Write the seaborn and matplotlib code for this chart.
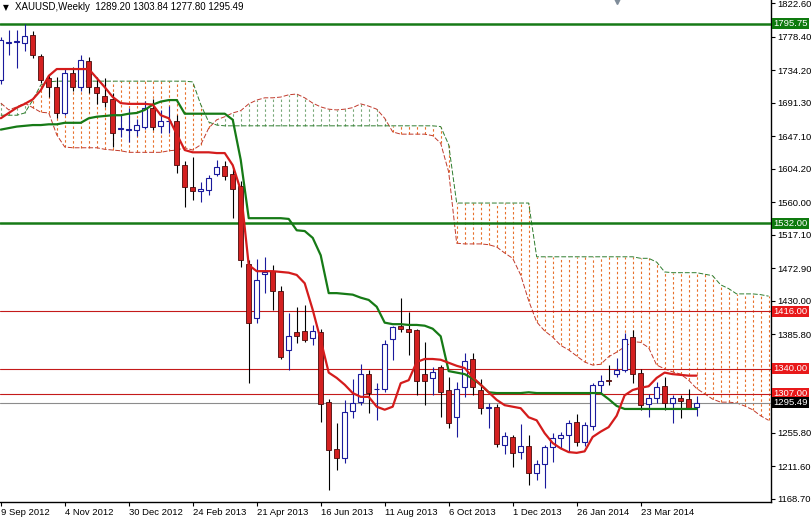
import numpy as np
import pandas as pd
import matplotlib
matplotlib.use("Agg")
import matplotlib.pyplot as plt
import seaborn as sns

# weekly XAUUSD candles, week 0 = 9 Sep 2012
opens = [1722, 1771, 1772, 1771, 1781, 1753, 1724, 1712, 1678, 1731,
         1712, 1746, 1712, 1701, 1697, 1657, 1656, 1656, 1660, 1684,
         1661, 1667, 1668, 1609, 1580, 1575, 1576, 1597, 1608, 1597,
         1581, 1479, 1407, 1465, 1469, 1443, 1365, 1388, 1390, 1381,
         1388, 1296, 1234, 1222, 1284, 1296, 1333, 1313, 1314, 1379,
         1396, 1392, 1391, 1333, 1328, 1342, 1312, 1277, 1316, 1353,
         1312, 1288, 1289, 1240, 1250, 1230, 1238, 1202, 1214, 1237,
         1248, 1253, 1270, 1243, 1265, 1318, 1325, 1333, 1338, 1382,
         1334, 1294, 1302, 1317, 1295, 1302, 1300, 1289.20]
highs = [1778, 1787, 1788, 1795, 1786, 1756, 1730, 1725, 1737, 1739,
         1754, 1752, 1725, 1724, 1704, 1675, 1684, 1670, 1694, 1696,
         1682, 1687, 1675, 1615, 1620, 1587, 1596, 1616, 1615, 1606,
         1588, 1484, 1485, 1488, 1477, 1450, 1414, 1422, 1424, 1398,
         1393, 1300, 1268, 1299, 1327, 1346, 1338, 1321, 1378, 1397,
         1434, 1415, 1393, 1375, 1343, 1345, 1329, 1322, 1361, 1361,
         1327, 1295, 1294, 1256, 1253, 1267, 1253, 1219, 1240, 1255,
         1256, 1272, 1280, 1270, 1321, 1332, 1345, 1354, 1387, 1391,
         1340, 1307, 1323, 1329, 1305, 1305, 1314, 1303.84]
lows = [1716, 1754, 1738, 1760, 1750, 1718, 1699, 1671, 1675, 1707,
        1707, 1704, 1690, 1686, 1633, 1646, 1640, 1647, 1657, 1655,
        1652, 1651, 1599, 1554, 1563, 1560, 1570, 1595, 1590, 1539,
        1475, 1321, 1400, 1440, 1418, 1353, 1338, 1374, 1376, 1372,
        1270, 1180, 1206, 1216, 1275, 1292, 1282, 1272, 1310, 1352,
        1389, 1358, 1305, 1292, 1306, 1277, 1262, 1250, 1303, 1306,
        1280, 1262, 1237, 1227, 1210, 1221, 1186, 1193, 1182, 1217,
        1234, 1230, 1238, 1238, 1259, 1308, 1319, 1329, 1336, 1321,
        1286, 1276, 1295, 1286, 1268, 1275, 1287, 1277.80]
closes = [1774, 1772, 1773, 1779, 1754, 1721, 1712, 1678, 1731, 1712,
          1748, 1712, 1704, 1692, 1652, 1658, 1657, 1662, 1684, 1659,
          1667, 1668, 1609, 1580, 1575, 1577, 1592, 1606, 1595, 1578,
          1484, 1400, 1457, 1468, 1443, 1356, 1383, 1383, 1378, 1390,
          1294, 1233, 1222, 1283, 1295, 1333, 1308, 1314, 1373, 1395,
          1393, 1388, 1324, 1324, 1336, 1309, 1268, 1314, 1350, 1316,
          1288, 1289, 1241, 1251, 1229, 1238, 1202, 1214, 1237, 1248,
          1253, 1268, 1243, 1266, 1318, 1324, 1324, 1338, 1380, 1333,
          1292, 1302, 1316, 1295, 1302, 1298, 1288, 1295.49]

# Ichimoku lines
tenkan = [1671, 1678, 1685, 1690, 1696, 1708, 1727, 1736, 1736, 1736,
          1736, 1736, 1724, 1712, 1699, 1691, 1690, 1690, 1690, 1689,
          1675, 1671, 1650, 1629, 1626, 1626, 1626, 1625, 1625, 1609,
          1576, 1477, 1469, 1469, 1469, 1468, 1467, 1464, 1453, 1418,
          1378, 1335, 1328, 1319, 1308, 1303, 1303, 1290, 1286, 1290,
          1321, 1325, 1349, 1353, 1353, 1352, 1348, 1344, 1341, 1329,
          1319, 1309, 1299, 1292, 1290, 1288, 1276, 1272, 1255, 1242,
          1235, 1230, 1229, 1231, 1250, 1257, 1263, 1278, 1305, 1312,
          1315, 1317, 1328, 1335, 1333, 1332, 1331, 1331]
kijun = [1656, 1658, 1660, 1661, 1662, 1662, 1663, 1663, 1665, 1665,
         1665, 1671, 1673, 1674, 1675, 1675, 1677, 1678, 1682, 1689,
         1693, 1695, 1695, 1677, 1677, 1677, 1677, 1677, 1677, 1669,
         1616, 1539, 1539, 1539, 1539, 1539, 1538, 1523, 1522, 1513,
         1490, 1440, 1440, 1439, 1438, 1434, 1431, 1422, 1401, 1399,
         1399, 1398, 1398, 1397, 1393, 1383, 1337, 1335, 1333, 1327,
         1319, 1309, 1308, 1308, 1308, 1308, 1309, 1308, 1308, 1308,
         1308, 1308, 1308, 1308, 1308, 1308, 1300, 1291, 1287, 1287,
         1287, 1287, 1287, 1287, 1287, 1287, 1287, 1287]
span_a = [1691, 1682, 1686, 1691, 1685, 1679, 1678, 1649, 1633, 1632,
          1632, 1632, 1632, 1630, 1629, 1628, 1626, 1626, 1626, 1626,
          1626, 1628, 1629, 1632, 1629, 1636, 1658, 1669, 1673, 1678,
          1681, 1690, 1695, 1698, 1698, 1699, 1702, 1703, 1698, 1691,
          1686, 1683, 1682, 1683, 1685, 1690, 1687, 1683, 1671, 1653,
          1650, 1650, 1650, 1650, 1648, 1638, 1600, 1506, 1505, 1505,
          1505, 1504, 1501, 1493, 1486, 1464, 1430, 1402, 1390, 1382,
          1371, 1365, 1357, 1349, 1345, 1346, 1356, 1362, 1369, 1376,
          1375, 1368, 1345, 1340, 1336, 1333, 1325, 1314, 1307, 1300,
          1296, 1296, 1295, 1291, 1286, 1278, 1272]
span_b = [1675, 1675, 1675, 1678, 1695, 1715, 1719, 1720, 1720, 1720,
          1720, 1720, 1720, 1720, 1720, 1720, 1720, 1720, 1720, 1720,
          1720, 1720, 1720, 1720, 1719, 1689, 1666, 1662, 1661, 1661,
          1661, 1661, 1661, 1661, 1661, 1661, 1661, 1661, 1661, 1661,
          1661, 1661, 1661, 1661, 1661, 1661, 1661, 1661, 1661, 1661,
          1661, 1661, 1661, 1661, 1661, 1660, 1636, 1559, 1559, 1559,
          1559, 1559, 1559, 1559, 1559, 1559, 1559, 1488, 1488, 1488,
          1488, 1488, 1488, 1488, 1488, 1488, 1488, 1488, 1488, 1488,
          1486, 1486, 1481, 1468, 1467, 1467, 1467, 1467, 1465, 1463,
          1451, 1446, 1439, 1439, 1439, 1438, 1436]

date_labels = ["9 Sep 2012", "4 Nov 2012", "30 Dec 2012", "24 Feb 2013",
               "21 Apr 2013", "16 Jun 2013", "11 Aug 2013", "6 Oct 2013",
               "1 Dec 2013", "26 Jan 2014", "23 Mar 2014"]
date_weeks = [0, 8, 16, 24, 32, 40, 48, 56, 64, 72, 80]
price_ticks = [1822.60, 1778.40, 1734.20, 1691.30, 1647.10, 1604.20, 1560.00,
               1517.10, 1472.90, 1430.00, 1385.80, 1255.80, 1211.60, 1168.70]

level_prices = [1795.75, 1532.00, 1416.00, 1340.00, 1307.00, 1295.49]
level_kinds = ["green", "green", "red", "red", "red", "bid"]

GREEN = "#167a16"
RED = "#d41c1c"
BLUE = "#1a1a9c"

sns.set_style("white")
plt.rcParams["font.family"] = ["Liberation Sans", "DejaVu Sans"]

fig = plt.figure(figsize=(8.12, 5.18), dpi=100)
ax = fig.add_axes([0, 16 / 518, 771 / 812, 502 / 518])

df = pd.DataFrame({"week": np.arange(len(opens)), "open": opens, "high": highs,
                   "low": lows, "close": closes})
cloud = pd.DataFrame({"week": np.arange(len(span_a)), "a": span_a, "b": span_b})
lines = pd.DataFrame({"week": np.arange(len(tenkan)), "tenkan": tenkan, "kijun": kijun})

# kumo hatching, one dashed stroke per bar
bear_cloud = cloud[cloud.b > cloud.a]
bull_cloud = cloud[cloud.b <= cloud.a]
ax.vlines(bear_cloud.week, bear_cloud.a, bear_cloud.b, colors="#e8702a",
          linestyles=(0, (2.2, 2.2)), lw=0.8, zorder=1)
ax.vlines(bull_cloud.week, bull_cloud.b, bull_cloud.a, colors="#78a878",
          linestyles=(0, (2.2, 2.2)), lw=0.8, zorder=1)
sns.lineplot(data=cloud, x="week", y="a", color="#c0392b", lw=0.7,
             linestyle=(0, (5, 2)), ax=ax, zorder=2)
sns.lineplot(data=cloud, x="week", y="b", color="#2e7d2e", lw=0.7,
             linestyle=(0, (5, 2)), ax=ax, zorder=2)

# support / resistance levels
for p, kind in zip(level_prices, level_kinds):
    if kind == "green":
        ax.axhline(p, color=GREEN, lw=1.8, zorder=3)
        fc = "#0e7a0e"
    elif kind == "red":
        ax.axhline(p, color="#c41a1a", lw=0.8, zorder=3)
        fc = "#e8191a"
    else:
        ax.axhline(p, color="#8c8c8c", lw=0.8, zorder=3)
        fc = "black"
    ax.text(1.003, p, f"{p:.2f}", transform=ax.get_yaxis_transform(),
            ha="left", va="center", fontsize=6.8, color="white", clip_on=False,
            zorder=10, bbox=dict(boxstyle="square,pad=0.12", fc=fc, ec="none"))

# candles
up = df[df.close >= df.open]
dn = df[df.close < df.open]
ax.vlines(up.week, up.low, up.high, colors=BLUE, lw=0.8, zorder=4)
ax.vlines(dn.week, dn.low, dn.high, colors="black", lw=0.8, zorder=4)
ax.bar(up.week, up.close - up.open, bottom=up.open, width=0.62, color="white",
       edgecolor=BLUE, lw=0.8, zorder=5)
ax.bar(dn.week, dn.close - dn.open, bottom=dn.open, width=0.62, color="#d42020",
       edgecolor="#4a0a0a", lw=0.6, zorder=5)

# tenkan / kijun
sns.lineplot(data=lines, x="week", y="kijun", color=GREEN, lw=1.6, ax=ax, zorder=6)
sns.lineplot(data=lines, x="week", y="tenkan", color=RED, lw=1.6, ax=ax, zorder=6)

ax.set_xlim(-0.1, 96.3)
ax.set_ylim(1164.1, 1827.2)
ax.set_xlabel("")
ax.set_ylabel("")

ax.yaxis.tick_right()
ax.set_yticks(price_ticks)
ax.set_yticklabels([f"{p:.2f}" for p in price_ticks])
ax.set_xticks(date_weeks)
ax.set_xticklabels(date_labels, ha="left")
ax.tick_params(axis="y", which="both", right=True, left=False, length=3, width=0.8,
               pad=1.5, labelsize=6.8, colors="black")
ax.tick_params(axis="x", which="both", bottom=True, length=3, width=0.8,
               pad=1.5, labelsize=6.8, colors="black")

for side in ["top", "left"]:
    ax.spines[side].set_visible(False)
for side in ["right", "bottom"]:
    ax.spines[side].set_color("black")
    ax.spines[side].set_linewidth(1.0)

ax.text(0.004, 0.986, "\u25bc", transform=ax.transAxes, fontsize=5.5,
        ha="left", va="center", color="black", family=["DejaVu Sans"])
ax.text(0.019, 0.986, "XAUUSD,Weekly  1289.20 1303.84 1277.80 1295.49",
        transform=ax.transAxes, fontsize=7, ha="left", va="center", color="black")
ax.plot([77], [1827.2], marker="v", color="#7f8c99", markersize=6, clip_on=False, zorder=10)

fig.savefig("out.png", dpi=100)
